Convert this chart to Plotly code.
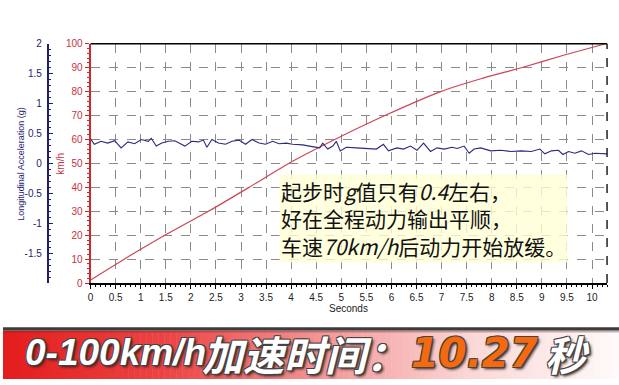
import plotly.graph_objects as go

# ---------------- data ----------------
speed_t = [0, 0.67, 1.48, 2.35, 3.16, 3.95, 4.87, 5.87, 6.98, 7.8, 8.59, 9.45, 10.27]
speed_v = [1.3, 10, 20, 30, 40, 50, 60, 70, 80, 85.5, 90, 95.3, 100]

acc_t = [0.00, 0.075, 0.21, 0.34, 0.48, 0.61, 0.745, 0.88, 1.01, 1.15, 1.21, 1.31, 1.42,
         1.55, 1.68, 1.78, 1.88, 2.02, 2.15, 2.25, 2.32, 2.42, 2.55, 2.69, 2.82, 2.96,
         3.09, 3.22, 3.36, 3.49, 3.63, 3.76, 3.90, 4.03, 4.23, 4.36, 4.57, 4.63, 4.73,
         4.83, 4.90, 4.98, 5.10, 5.30, 5.50, 5.70, 5.84, 5.94, 6.11, 6.24, 6.38, 6.51,
         6.64, 6.78, 6.91, 7.05, 7.21, 7.31, 7.45, 7.55, 7.65, 7.78, 7.98, 8.18, 8.39,
         8.59, 8.79, 8.96, 9.06, 9.19, 9.33, 9.42, 9.53, 9.66, 9.79, 9.93, 10.06, 10.26, 10.30]
acc_g = [0.41, 0.32, 0.37, 0.34, 0.38, 0.26, 0.36, 0.33, 0.40, 0.37, 0.42, 0.29, 0.34,
         0.37, 0.38, 0.34, 0.29, 0.37, 0.36, 0.39, 0.27, 0.40, 0.34, 0.32, 0.37, 0.39,
         0.32, 0.40, 0.34, 0.32, 0.37, 0.33, 0.34, 0.32, 0.31, 0.29, 0.26, 0.34, 0.24,
         0.29, 0.37, 0.21, 0.27, 0.26, 0.25, 0.24, 0.32, 0.21, 0.26, 0.24, 0.29, 0.22,
         0.34, 0.20, 0.26, 0.24, 0.27, 0.25, 0.29, 0.17, 0.24, 0.26, 0.21, 0.22, 0.20,
         0.21, 0.20, 0.24, 0.16, 0.21, 0.22, 0.15, 0.20, 0.17, 0.21, 0.15, 0.17, 0.16, 0.16]

x_ticks = [0, 0.5, 1, 1.5, 2, 2.5, 3, 3.5, 4, 4.5, 5, 5.5, 6, 6.5, 7, 7.5, 8, 8.5, 9, 9.5, 10]
x_ticktext = ["0", "0.5", "1", "1.5", "2", "2.5", "3", "3.5", "4", "4.5", "5", "5.5",
              "6", "6.5", "7", "7.5", "8", "8.5", "9", "9.5", "10"]
acc_ticks = [-1.5, -1, -0.5, 0, 0.5, 1, 1.5, 2]
acc_ticktext = ["-1.5", "-1", "-0.5", "0", "0.5", "1", "1.5", "2"]

note_text = ("起步时<i>g</i>值只有<i>0.4</i>左右，<br>"
             "好在全程动力输出平顺，<br>"
             "车速<i>70km/h</i>后动力开始放缓。")

W, H = 619, 385
def px(x):
    return x / W
def py(y):
    return 1 - y / H

RED = "#c8323c"
NAVY = "#1e1e70"

fig = go.Figure()
fig.add_trace(go.Scatter(x=speed_t, y=speed_v, mode="lines",
                         line=dict(color="#cc4656", width=1.2, shape="spline", smoothing=0.6),
                         yaxis="y", hoverinfo="skip"))
fig.add_trace(go.Scatter(x=acc_t, y=acc_g, mode="lines",
                         line=dict(color="#2a2a80", width=1.1),
                         yaxis="y2", hoverinfo="skip"))

tickfont = dict(family="Liberation Sans, Arial", size=10)

fig.update_layout(
    width=W, height=H,
    margin=dict(l=0, r=0, t=0, b=0),
    paper_bgcolor="white", plot_bgcolor="white",
    showlegend=False,
    xaxis=dict(domain=[px(88), px(607)], range=[0, 10.3],
               tickvals=x_ticks, ticktext=x_ticktext,
               showgrid=True, gridcolor="#8a8a8a", griddash="dash", gridwidth=1,
               showline=True, linecolor="black", linewidth=2,
               ticks="outside", ticklen=4, tickcolor="black",
               minor=dict(dtick=0.1, ticks="outside", ticklen=2, tickcolor="black", showgrid=False),
               tickfont=dict(tickfont, color="#222"), zeroline=False, fixedrange=True),
    yaxis=dict(domain=[py(286), py(39)], range=[0, 100], dtick=10,
               showgrid=True, gridcolor="#8a8a8a", griddash="dash", gridwidth=1,
               showline=True, linecolor="#cc2a2a", linewidth=2,
               ticks="outside", ticklen=4, tickcolor="#cc2a2a",
               minor=dict(dtick=2, ticks="outside", ticklen=2, tickcolor="#cc2a2a", showgrid=False),
               tickfont=dict(tickfont, color=RED), zeroline=False, fixedrange=True),
    yaxis2=dict(overlaying="y", anchor="free", position=px(45), side="left",
                range=[-2, 2], tickvals=acc_ticks, ticktext=acc_ticktext,
                showgrid=False, showline=True, linecolor=NAVY, linewidth=2,
                ticks="inside", ticklen=4, tickcolor=NAVY, ticklabelstandoff=3,
                minor=dict(dtick=0.1, ticks="inside", ticklen=2, tickcolor=NAVY, showgrid=False),
                tickfont=dict(tickfont, color=NAVY), zeroline=False, fixedrange=True),
)

shapes = []
# plot frame top and dashed right edge
shapes.append(dict(type="line", xref="x domain", yref="y domain", x0=0, x1=1, y0=1, y1=1,
                   line=dict(color="black", width=1.5), layer="above"))
shapes.append(dict(type="line", xref="x domain", yref="y domain", x0=1, x1=1, y0=0, y1=1,
                   line=dict(color="#222", width=1.5, dash="dash"), layer="above"))

# banner gradient
stops = [(0, (228, 28, 28)), (170, (236, 70, 70)), (320, (244, 150, 150)),
         (470, (251, 215, 215)), (619, (255, 250, 250))]
def col_at(x):
    for (xa, ca), (xb, cb) in zip(stops[:-1], stops[1:]):
        if xa <= x <= xb:
            f = (x - xa) / (xb - xa)
            return "rgb(%d,%d,%d)" % tuple(round(ca[i] + (cb[i] - ca[i]) * f) for i in range(3))
    return "rgb(255,255,255)"
step = 6
for x0 in range(0, W, step):
    shapes.append(dict(type="rect", xref="paper", yref="paper",
                       x0=px(x0), x1=px(min(x0 + step + 0.5, W)), y0=0, y1=py(335),
                       line=dict(width=0), fillcolor=col_at(x0 + step / 2), layer="below"))
shapes.append(dict(type="rect", xref="paper", yref="paper", x0=0, x1=1, y0=py(335), y1=py(331.5),
                   line=dict(width=0), fillcolor="#3c3c3c", layer="below"))
shapes.append(dict(type="rect", xref="paper", yref="paper", x0=0, x1=1, y0=py(337), y1=py(335),
                   line=dict(width=0), fillcolor="rgba(90,40,40,0.35)", layer="below"))
fig.update_layout(shapes=shapes)

annos = []
annos.append(dict(text="Longitudinal Acceleration (g)", xref="paper", yref="paper",
                  x=px(18), y=py(163), xanchor="center", yanchor="middle",
                  textangle=-90, showarrow=False,
                  font=dict(family="Liberation Sans, Arial", size=9, color=NAVY)))
annos.append(dict(text="km/h", xref="paper", yref="paper",
                  x=px(58), y=py(163), xanchor="center", yanchor="middle",
                  textangle=-90, showarrow=False,
                  font=dict(family="Liberation Sans, Arial", size=10, color=RED)))
annos.append(dict(text="Seconds", xref="paper", yref="paper",
                  x=px(347), y=py(312), xanchor="center", yanchor="middle", showarrow=False,
                  font=dict(family="Liberation Sans, Arial", size=10, color="#222")))
annos.append(dict(text=note_text, xref="paper", yref="paper", x=px(277), y=py(219),
                  xanchor="left", yanchor="middle", align="left", showarrow=False,
                  bgcolor="rgba(255,255,214,0.8)", borderpad=1,
                  font=dict(family="Noto Sans CJK SC", size=21, color="#111")))

shadow = ("1px 1px 0 #444, -1px -1px 0 #444, 1px -1px 0 #444, -1px 1px 0 #444, "
          "2px 2px 3px #222")
def banner(text, x, size, color="white", family="Liberation Sans, Arial"):
    return dict(text=text, xref="paper", yref="paper", x=px(x), y=py(358),
                xanchor="left", yanchor="middle", showarrow=False,
                font=dict(family=family, size=size, color=color, weight="bold",
                          style="italic", shadow=shadow))
annos.append(banner("0-100km/h", 20, 37))
annos.append(banner("加速时间：", 198, 41, family="Noto Sans CJK SC"))
annos.append(banner("10.27", 408, 40, color="#f56a0e", family="DejaVu Sans"))
annos.append(banner("秒", 543, 41, family="Noto Sans CJK SC"))
fig.update_layout(annotations=annos)

fig.write_html("out.html")
